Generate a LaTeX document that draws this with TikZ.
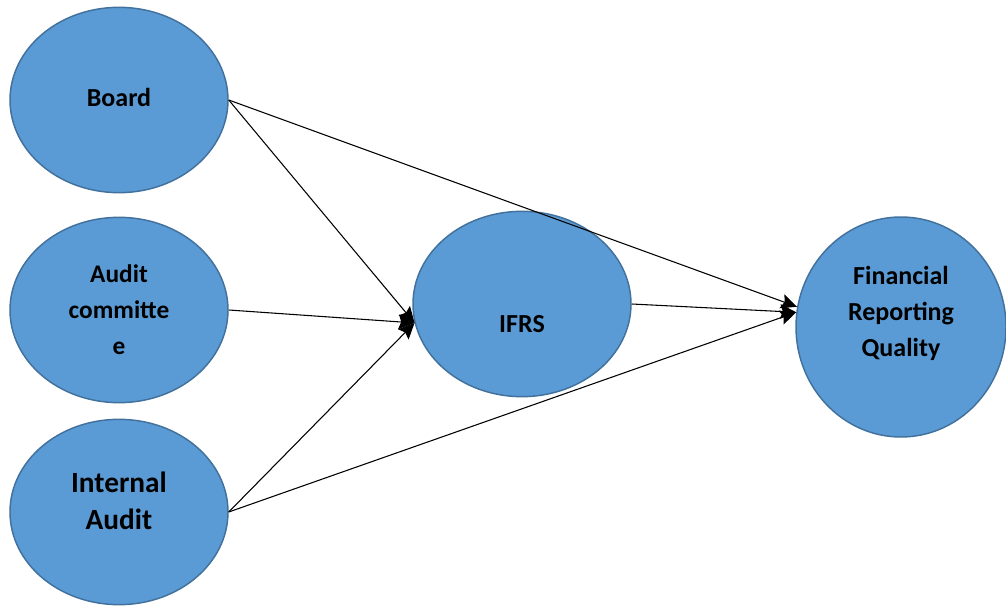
\documentclass[tikz,border=0pt]{standalone}
\usepackage{fontspec}
\setmainfont{Carlito}
\usepackage{tikz}
\usetikzlibrary{shapes.geometric,arrows.meta,positioning}
\definecolor{fillblue}{RGB}{91,155,213}
\definecolor{edgeblue}{RGB}{65,113,156}
\begin{document}
\begin{tikzpicture}[x=0.75pt,y=-0.75pt,
    var/.style={ellipse,draw=edgeblue,fill=fillblue,line width=1.1pt,inner sep=0pt,
        minimum width=163.5pt,minimum height=139pt},
    txt/.style={align=center,inner sep=0pt,font=\fontsize{19.5}{27}\selectfont\bfseries},
    link/.style={line width=0.8pt,-{Stealth[length=12pt,width=11pt,inset=2pt]}}]
    \useasboundingbox (0,0) rectangle (1006,606);
    % independent variables
    \node[var,label={[txt,yshift=2pt]center:Board}] (board) at (119,100) {};
    \node[var,label={[txt,font=\fontsize{19}{27}\selectfont\bfseries]center:Audit\\committe\\e}] (audit) at (119,310) {};
    \node[var,label={[txt,font=\fontsize{22}{27.5}\selectfont\bfseries,yshift=8.5pt]center:Internal\\Audit}] (inaud) at (119,512) {};
    % mediator and outcome
    \node[var,label={[txt,yshift=-15pt]center:IFRS}] (ifrs) at (522,304) {};
    \node[var,minimum width=157.5pt,minimum height=165pt,
        label={[txt,yshift=10pt]center:Financial\\Reporting\\Quality}] (frq) at (901,327) {};
    % paths
    \draw[link] (board.east) -- (ifrs.190);
    \draw[link] (board.east) -- (frq.169);
    \draw[link] (audit.east) -- (ifrs.190);
    \draw[link] (inaud.east) -- (ifrs.190);
    \draw[link] (inaud.east) -- (frq.172);
    \draw[link] (ifrs.east) -- (frq.172);
\end{tikzpicture}
\end{document}
